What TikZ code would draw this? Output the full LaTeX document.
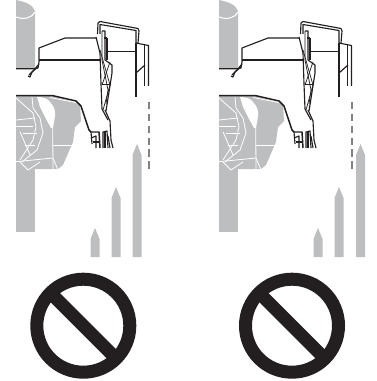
\documentclass[tikz,border=0pt]{standalone}
\usepackage{xcolor}
\usepackage{tikz}
\definecolor{bodygray}{RGB}{188,190,192}
\definecolor{inkblack}{RGB}{35,31,32}
\definecolor{dashgray}{RGB}{128,130,133}
\tikzset{
  ink/.style={draw=inkblack,line width=0.85pt,line join=round},
  thinink/.style={draw=inkblack,line width=0.55pt,line join=round},
  rib/.style={draw=white,line width=0.6pt},
  bodyfill/.style={fill=bodygray,draw=none},
  flow/.style={fill=bodygray,draw=none},
  nosign/.style={draw=inkblack,line width=9.75pt},
  panel/.pic={
    % cylinder and body
    \fill[bodyfill](16,0)..controls(26,2)and(33,5)..(35,11)--(35,69)--(16,69)--cycle;
    \draw[rib,line width=0.8pt](16,17)..controls(24,20)and(32,18)..(35,12);
    \fill[bodyfill](16,96)--(53,96)--(80,104)--(81,121)--(75,127)--(73,142)--(63,165)--(58,169)--(16,169)--cycle;
    \fill[bodyfill](16,168)rectangle(35,232);
    \fill[white](37,97)..controls(44,97)and(48,99)..(50,102)..controls(54,106)and(56,112)..(55,116)--(53,128)--(51,128)--(45,117)--(40,107)--cycle;
    \draw[rib](16,98)--(33,113)--(36,127)--(33,140)--(20,160);
    \draw[rib](32,97)--(33,108)--(40,118)--(43,133)--(37,150)--(22,162);
    \draw[rib](16,120)--(35,118);
    \draw[rib](16,126.7)--(33,126.7);
    \draw[rib](20,131.7)--(30,155);
    \draw[rib](23,133)--(37,133);
    \draw[rib](25,145)--(35,145);
    \draw[rib](52.7,128)--(53,169);
    \draw[rib](53,145)--(73,145);
    \draw[rib](16,161.7)--(53,158)--(58,170);
    \draw[rib](20,162)--(28,170)--(40,162);
    \draw[rib](50,97.5)--(78,103);
    % upper housing
    \draw[ink](16,68.7)--(35,68.7)--(38,68)--(39,62)--(39,48)--(65,38)--(96,38);
    \draw[ink](39,60)--(101,60);
    \draw[ink](39,64)--(34,70)--(29,75);
    \draw[ink](38,67)--(32,72)--(30,77)--(28,76);
    % outer bracket
    \draw[ink](97.5,34)--(98,23)--(100,21.5)--(138,28.5)--(139,31)--(138,43);
    \draw[ink](100,34)--(100,24.5)--(136,30.5)--(136,43);
    \draw[ink](136,43)--(136,97);
    \draw[ink](136,43)--(148.5,45.5)--(148.5,86);
    \draw[ink](144.5,45)--(144.5,86);
    \draw[ink](136,73)--(145,65);
    \draw[ink](108,51.5)--(136,51.5);
    % centre strips
    \draw[ink](96,37)--(100,53)--(101,84)--(102,109)--(108,120);
    \draw[ink](102,31)--(105,31)--(105,60)--(112,65)--(112,73)--(106,111);
    \draw[thinink](102,31)--(102,60)--(108,90)--(106,104);
    \draw[ink](107,38)--(107,60);
    \draw[ink](107,38)--(104,38);
    \draw[thinink](100,50)--(110,85)--(103,110);
    \draw[thinink](110,62)--(102,85);
    \draw[thinink](102,84)--(111,84);
    \draw[ink](105,110)--(110,121)--(111,140)--(113,148);
    % lower housing
    \draw[ink,line width=1.1pt](16,95.7)--(53,95.7)--(76,101)--(81,106)--(89,130)--(91,132)--(99,132)--(100,148);
    \draw[ink](91,132)--(92,144);
    \draw[ink](91,138)--(96,136)--(96,148);
    \draw[ink](93,142)--(99,142);
    \draw[ink](103,148)--(103,132)--(107,131)--(108,148);
    \draw[ink](105,148)--(105,132);
    \draw[ink](108,136)--(110,148);
    % dashed edge
    \draw[dashgray,line width=1.7pt,dash pattern=on 5.5pt off 3.4pt](148.7,102)--(148.7,172);
  },
}
\begin{document}
\begin{tikzpicture}[x=0.75pt,y=-0.75pt]
  \useasboundingbox(0,0)rectangle(376,381);
  \pic at(0,0){panel};
  \pic at(203,0){panel};
  % flow arrows
  \foreach \xa/\ya in {95/228,116/187,137/144,318/228,339/187,360.5/144}
    \fill[flow](\xa-4.5,257)--(\xa-4.5,\ya+11)--(\xa,\ya)--(\xa+4.5,\ya+11)--(\xa+4.5,257)--cycle;
  % prohibition signs
  \foreach \xc in {83.3,292}{
    \draw[nosign](\xc,325.7)circle[radius=46.5];
    \draw[nosign](\xc-33,325.7-33)--(\xc+33,325.7+33);
  }
\end{tikzpicture}
\end{document}
